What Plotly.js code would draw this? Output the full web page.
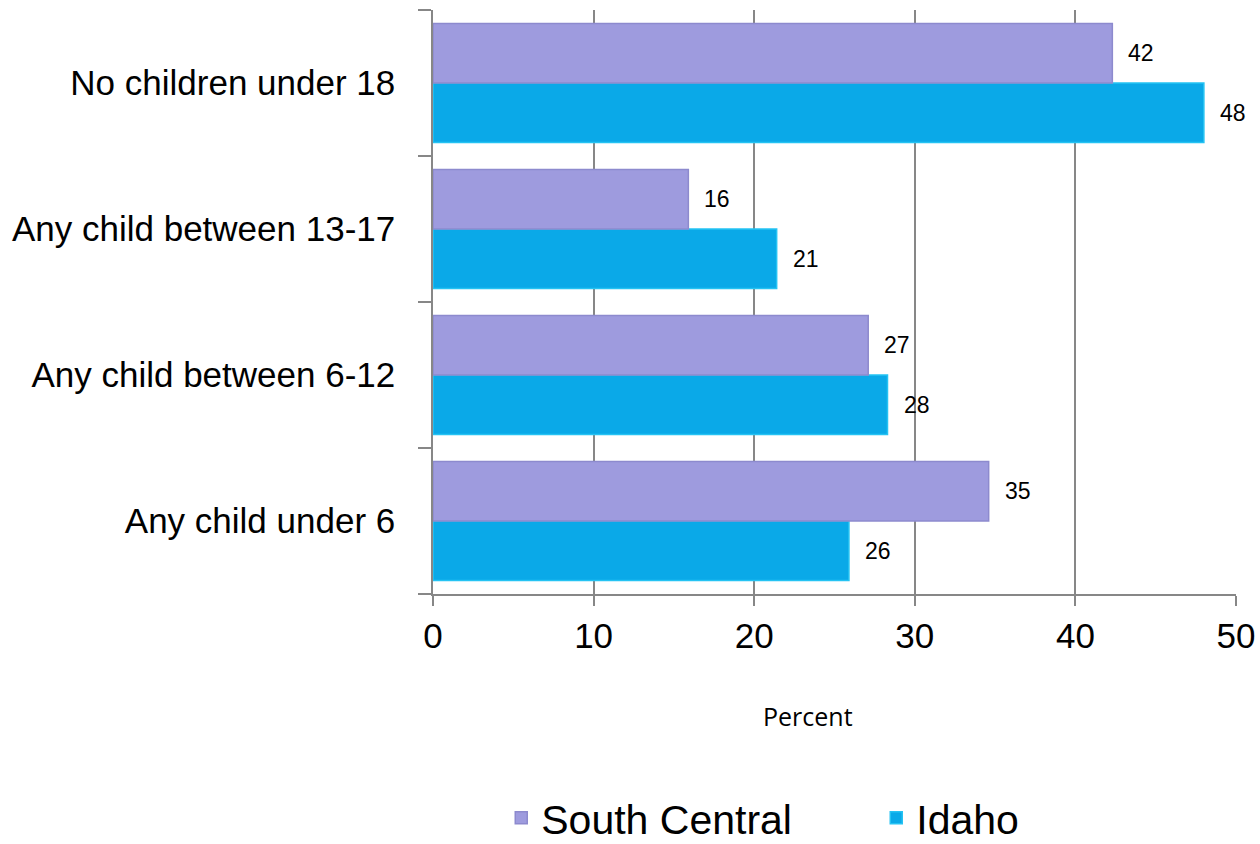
<!DOCTYPE html>
<html>
<head>
<meta charset="utf-8">
<script src="https://cdn.plot.ly/plotly-3.0.1.min.js"></script>
<style>
  html, body { margin: 0; padding: 0; background: #ffffff; }
  #chart { width: 1260px; height: 844px; }
</style>
</head>
<body>
<div id="chart"></div>
<script>
// Categories listed bottom-to-top (Plotly puts the first category at the bottom)
const categories = ["Any child under 6", "Any child between 6-12", "Any child between 13-17", "No children under 18"];
const seriesNames = ["South Central", "Idaho"];
const southCentral = [34.6, 27.1, 15.9, 42.3];
const idaho = [25.9, 28.3, 21.4, 48.0];
const southCentralLabels = ["35", "27", "16", "42"];
const idahoLabels = ["26", "28", "21", "48"];
const xTicks = [0, 10, 20, 30, 40, 50];
const axisTitle = "Percent";

const gray = "#878787";
const sans = "'Liberation Sans', Arial, sans-serif";

const traces = [
  {
    type: "bar", orientation: "h", name: seriesNames[1],
    y: categories, x: idaho,
    marker: { color: "#0aa9e8", line: { color: "#25c3f3", width: 1.5 } },
    legendrank: 2, hoverinfo: "x+y+name"
  },
  {
    type: "bar", orientation: "h", name: seriesNames[0],
    y: categories, x: southCentral,
    marker: { color: "#9e9bde", line: { color: "#8d8ace", width: 1.5 } },
    legendrank: 1, hoverinfo: "x+y+name"
  }
];

// plot area spans 10..594 px vertically
const pyToPaper = (py) => (594 - py) / 584;

const annotations = [];
categories.forEach((c, i) => {
  annotations.push({
    x: southCentral[i], y: c, xref: "x", yref: "y",
    text: southCentralLabels[i], showarrow: false,
    xanchor: "left", yanchor: "middle", xshift: 14, yshift: 30,
    font: { family: sans, size: 23, color: "#000000" }
  });
  annotations.push({
    x: idaho[i], y: c, xref: "x", yref: "y",
    text: idahoLabels[i], showarrow: false,
    xanchor: "left", yanchor: "middle", xshift: 14, yshift: -30,
    font: { family: sans, size: 23, color: "#000000" }
  });
});
annotations.push({
  x: 0.467, y: pyToPaper(716), xref: "paper", yref: "paper",
  text: axisTitle, showarrow: false, xanchor: "center", yanchor: "middle",
  font: { family: "'Open Sans', 'Noto Sans', sans-serif", size: 25, color: "#000000" }
});

const layout = {
  width: 1260, height: 844,
  margin: { l: 433, r: 24, t: 10, b: 250, autoexpand: false },
  paper_bgcolor: "#ffffff", plot_bgcolor: "#ffffff",
  barmode: "group", bargap: 0.185, bargroupgap: 0,
  showlegend: true,
  legend: {
    orientation: "h", x: 0.085, y: pyToPaper(818),
    xanchor: "left", yanchor: "middle",
    font: { family: sans, size: 41, color: "#000000" },
    entrywidth: 330, traceorder: "normal"
  },
  xaxis: {
    range: [0, 50], tickvals: xTicks, ticktext: xTicks.map(String),
    showgrid: true, gridcolor: gray, gridwidth: 1.5,
    showline: true, linecolor: gray, linewidth: 1.5,
    zeroline: false, ticks: "outside", ticklen: 10, tickcolor: gray, tickwidth: 1.5,
    tickfont: { family: sans, size: 35, color: "#000000" },
    fixedrange: true
  },
  yaxis: {
    type: "category", categoryorder: "array", categoryarray: categories,
    showgrid: false, showline: true, linecolor: gray, linewidth: 1.5,
    ticks: "outside", tickson: "boundaries", ticklen: 13, tickcolor: gray, tickwidth: 1.5,
    ticklabelstandoff: 29,
    tickfont: { family: sans, size: 35, color: "#000000" },
    fixedrange: true
  },
  annotations: annotations
};

Plotly.newPlot("chart", traces, layout, { displayModeBar: false });
</script>
</body>
</html>
